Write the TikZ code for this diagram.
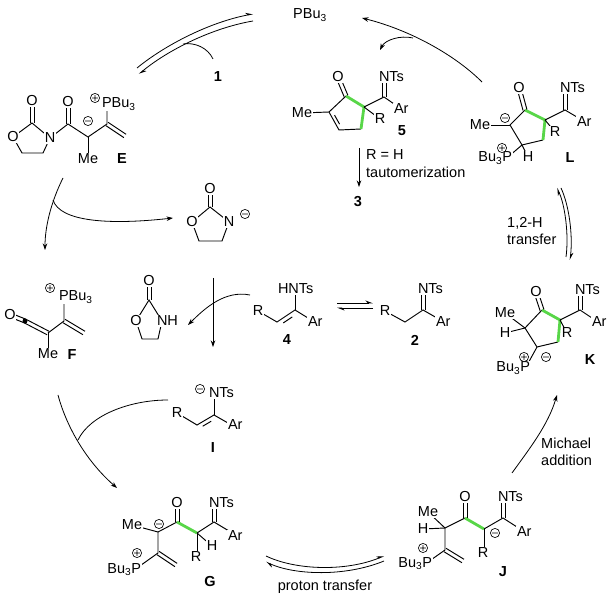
\documentclass[tikz,border=0pt]{standalone}
\usepackage{fontspec}
\setmainfont{Liberation Sans}
\usetikzlibrary{arrows.meta,calc}
\definecolor{hlgreen}{RGB}{88,214,72}
\tikzset{
  bond/.style={line width=0.95pt},
  gbond/.style={line width=2.8pt,draw=hlgreen},
  atom/.style={fill=white,inner sep=0.8pt},
  cpd/.style={font=\bfseries},
  chg/.style={line width=0.65pt,fill=white},
  arr/.style={line width=0.8pt,-{Stealth[length=6.5pt,width=4.5pt]}},
  eq/.style={line width=0.8pt,-{Stealth[length=6.5pt,width=5pt,harpoon]}},
  note/.style={align=left,inner sep=0pt}
}
\newcommand{\dbl}[2]{\draw[bond] ($#1!2pt!90:#2$) -- ($#2!2pt!-90:#1$) ($#1!2pt!-90:#2$) -- ($#2!2pt!90:#1$);}
\begin{document}
\fontsize{14.5}{17.5}\selectfont
\begin{tikzpicture}[x=1pt,y=-1pt]
\useasboundingbox (0,0) rectangle (616,601);

\draw[bond] (32,123) -- (13,137) -- (22,153) -- (43,153) -- (50,138) -- cycle;
\draw[bond] (50,138) -- (68,124) -- (88,137) -- (107,124) -- (107,103);
\draw[bond] (88,137) -- (88,159);
\dbl{(32,123)}{(32,101)}
\dbl{(68,124)}{(68,102)}
\dbl{(107,124)}{(125,136)}

\dbl{(10,315)}{(25,321)}
\dbl{(25,321)}{(48,333)}
\draw[bond] (48,333) -- (48,354);
\draw[bond] (48,333) -- (64,321) -- (64,296);
\dbl{(64,321)}{(84,333)}

\draw[bond] (210,207) -- (192,222) -- (199,241) -- (222,241) -- (229,222) -- cycle;
\dbl{(210,207)}{(210,189)}

\draw[bond] (149,300) -- (136,321) -- (142,339) -- (158,339) -- (162,321) -- cycle;
\dbl{(149,300)}{(149,281)}

\draw[bond] (258,311) -- (277,322) -- (295,310) -- (308,318);
\draw[bond] (295,310) -- (295,289);
\draw[bond] ($(277,322)!0.18!(295,310)!0.22!(294,334)$) -- ($(295,310)!0.18!(277,322)!0.22!(294,334)$);

\draw[bond] (385,311) -- (405,322) -- (423,310) -- (437,318);
\dbl{(423,310)}{(423,289)}

\draw[bond] (177,413) -- (197,425) -- (214,415) -- (228,423);
\draw[bond] (214,415) -- (214,393);
\draw[bond] ($(197,425)!0.18!(214,415)!0.22!(212,437)$) -- ($(214,415)!0.18!(197,425)!0.22!(212,437)$);

\draw[bond] (346,96) -- (329,112) -- (339,130) -- (361,129);
\draw[gbond] (346,96) -- (364,107) -- (361,129);
\draw[bond] ($(329,112)!0.18!(339,130)!0.22!(348,115)$) -- ($(339,130)!0.18!(329,112)!0.22!(348,115)$);
\dbl{(346,96)}{(338,77)}
\draw[bond] (329,112) -- (302,113);
\draw[bond] (364,107) -- (384,97) -- (397,106);
\draw[bond] (364,107) -- (380,119);
\dbl{(384,97)}{(384,77)}

\draw[bond] (525,110) -- (510,125) -- (522,145) -- (543,140);
\draw[gbond] (525,110) -- (545,120) -- (543,140);
\dbl{(525,110)}{(519,88)}
\draw[bond] (510,125) -- (480,125);
\draw[bond] (522,145) -- (508,157);
\draw[bond] (522,145) -- (528,157);
\draw[bond] (545,120) -- (555,132);
\draw[bond] (545,120) -- (565,110) -- (582,120);
\dbl{(565,110)}{(565,88)}

\draw[bond] (542,310) -- (525,328) -- (537,347) -- (558,342);
\draw[gbond] (542,310) -- (560,320) -- (558,342);
\dbl{(542,310)}{(536,292)}
\draw[bond] (525,328) -- (505,313);
\draw[bond] (525,328) -- (505,333);
\draw[bond] (537,347) -- (526,367);
\draw[bond] (560,320) -- (567,333);
\draw[bond] (560,320) -- (580,310) -- (595,320);
\dbl{(580,310)}{(580,290)}

\draw[bond] (132,525) -- (158,532) -- (177,522);
\draw[gbond] (177,522) -- (197,533);
\draw[bond] (197,533) -- (214,522) -- (229,531);
\draw[bond] (197,533) -- (212,546);
\draw[bond] (197,533) -- (197,557);
\draw[bond] (158,532) -- (158,553) -- (137,568);
\dbl{(177,522)}{(177,503)}
\dbl{(214,522)}{(214,503)}
\dbl{(158,553)}{(176,565)}

\draw[bond] (428,512) -- (445,528) -- (465,518);
\draw[bond] (423,529) -- (445,528);
\draw[gbond] (465,518) -- (484,529);
\draw[bond] (484,529) -- (503,518) -- (517,527);
\draw[bond] (484,529) -- (484,553);
\draw[bond] (445,528) -- (445,550) -- (428,562);
\dbl{(465,518)}{(465,497)}
\dbl{(503,518)}{(503,497)}
\dbl{(445,550)}{(463,561)}

\node (pbu) at (310,15) {PBu\textsubscript{3}};
\node[cpd] (l1) at (218,77) {1};

\node[atom] (eO1) at (13,137) {O};
\node[atom] (eN) at (50,138) {N};
\node[atom] (eO2) at (32,101) {O};
\node[atom] (eO3) at (68,102) {O};
\node[atom] (eMe) at (88,159) {Me};
\node[atom,anchor=base west] (eP) at (101,108) {PBu\textsubscript{3}};
\node[cpd] (lE) at (122,159) {E};

\node[atom] (fO) at (10,315) {O};
\node[atom] (fMe) at (48,354) {Me};
\node[atom,anchor=base west] (fP) at (58,301) {PBu\textsubscript{3}};
\node[cpd] (lF) at (72,355) {F};
\fill (25,321) circle (2.5);

\node[atom] (aO1) at (192,222) {O};
\node[atom] (aN) at (229,222) {N};
\node[atom] (aO2) at (210,189) {O};

\node[atom] (nO1) at (136,321) {O};
\node[atom,anchor=west] (nN) at (156,321) {NH};
\node[atom] (nO2) at (149,281) {O};

\node[atom] (r4) at (258,311) {R};
\node[atom,anchor=west] (n4) at (277,289) {HNTs};
\node[atom,anchor=west] (ar4) at (307,322) {Ar};
\node[cpd] (l4) at (287,340) {4};

\node[atom] (r2) at (385,311) {R};
\node[atom,anchor=west] (n2) at (417,289) {NTs};
\node[atom,anchor=west] (ar2) at (435,322) {Ar};
\node[cpd] (l2) at (415,340) {2};

\node[atom] (rI) at (177,413) {R};
\node[atom,anchor=west] (nI) at (208,393) {NTs};
\node[atom,anchor=west] (arI) at (227,425) {Ar};
\node[cpd] (lI) at (213,448) {I};

\node[atom] (o5) at (338,77) {O};
\node[atom] (me5) at (302,113) {Me};
\node[atom,anchor=west] (n5) at (378,77) {NTs};
\node[atom,anchor=west] (ar5) at (393,109) {Ar};
\node[atom] (r5) at (380,119) {R};
\node[cpd] (l5) at (402,131) {5};
\node[anchor=west,inner sep=0pt] (rh) at (366,155) {R = H};
\node[anchor=west,inner sep=0pt] (taut) at (366,172) {tautomerization};
\node[cpd] (l3) at (358,202) {3};

\node[atom] (oL) at (519,88) {O};
\node[atom] (meL) at (480,125) {Me};
\node[atom,anchor=base east] (pL) at (513,162) {Bu\textsubscript{3}P};
\node[atom] (hL) at (528,157) {H};
\node[atom] (rL) at (555,132) {R};
\node[atom,anchor=west] (nL) at (559,88) {NTs};
\node[atom,anchor=west] (arL) at (576,122) {Ar};
\node[cpd] (lL) at (570,158) {L};

\node[atom] (oK) at (536,292) {O};
\node[atom] (meK) at (505,313) {Me};
\node[atom] (hK) at (505,333) {H};
\node[atom,anchor=base east] (pK) at (531,372) {Bu\textsubscript{3}P};
\node[atom] (rK) at (567,333) {R};
\node[atom,anchor=west] (nK) at (574,290) {NTs};
\node[atom,anchor=west] (arK) at (591,322) {Ar};
\node[cpd] (lK) at (590,360) {K};

\node[atom] (oG) at (177,503) {O};
\node[atom] (meG) at (132,525) {Me};
\node[atom,anchor=west] (nG) at (208,503) {NTs};
\node[atom,anchor=west] (arG) at (227,536) {Ar};
\node[atom] (hG) at (212,546) {H};
\node[atom] (rG) at (196,557) {R};
\node[atom,anchor=base east] (pG) at (142,573) {Bu\textsubscript{3}P};
\node[cpd] (lG) at (210,582) {G};

\node[atom] (oJ) at (465,497) {O};
\node[atom] (meJ) at (428,512) {Me};
\node[atom] (hJ) at (423,529) {H};
\node[atom,anchor=west] (nJ) at (497,497) {NTs};
\node[atom,anchor=west] (arJ) at (516,532) {Ar};
\node[atom] (rJ) at (483,553) {R};
\node[atom,anchor=base east] (pJ) at (433,567) {Bu\textsubscript{3}P};
\node[cpd] (lJ) at (503,572) {J};

\node[note,anchor=west] (hshift) at (507,231) {1,2-H\\transfer};
\node[note,anchor=west] (mich) at (541,452) {Michael\\addition};
\node (prot) at (325,587) {proton transfer};

\foreach \c in {(95,98),(50,288),(502,148),(524,357),(137,553),(423,548)}
  \draw[chg] \c circle (4.6) +(-2.9,0) -- +(2.9,0) +(0,-2.9) -- +(0,2.9);
\foreach \c in {(88,121),(245,214),(200,389),(505,118),(546,357),(159,524),(495,533)}
  \draw[chg] \c circle (4.6) +(-2.9,0) -- +(2.9,0);

\coordinate (eIn) at (137,68);
\coordinate (pIn) at (253,14);
\coordinate (pOut) at (253,21);
\coordinate (eOut) at (139,74);
\coordinate (oneS) at (213,59);
\coordinate (oneE) at (183,44);
\draw[eq] (eIn) .. controls (165,45) and (210,22) .. (pIn);
\draw[eq] (pOut) .. controls (212,28) and (168,50) .. (eOut);
\draw[line width=0.8pt] (oneS) .. controls (208,48) and (195,42) .. (oneE);

\coordinate (efS) at (63,178);
\coordinate (efE) at (45,250);
\coordinate (efB) at (53,200);
\coordinate (anE) at (173,218);
\draw[arr] (efS) .. controls (52,200) and (45,225) .. (efE);
\draw[arr] (efB) .. controls (60,222) and (110,225) .. (anE);

\coordinate (vS) at (213,278);
\coordinate (vE) at (213,347);
\coordinate (hS) at (250,295);
\coordinate (hE) at (188,325);
\draw[arr] (vS) -- (vE);
\draw[arr] (hS) .. controls (225,290) and (205,308) .. (hE);

\coordinate (t4a) at (337,303);
\coordinate (t2a) at (373,303);
\coordinate (t2b) at (373,308);
\coordinate (t4b) at (337,308);
\draw[eq] (t4a) -- (t2a);
\draw[eq] (t2b) -- (t4b);

\coordinate (fgS) at (58,395);
\coordinate (fgE) at (117,488);
\coordinate (iS) at (168,400);
\coordinate (iE) at (78,440);
\draw[arr] (fgS) .. controls (66,425) and (85,460) .. (fgE);
\draw[line width=0.8pt] (iS) .. controls (130,400) and (90,415) .. (iE);

\coordinate (gOut) at (266,556);
\coordinate (jIn) at (384,556);
\coordinate (jOut) at (384,561);
\coordinate (gIn) at (266,562);
\draw[eq] (gOut) .. controls (295,570) and (345,572) .. (jIn);
\draw[eq] (jOut) .. controls (345,577) and (295,575) .. (gIn);

\coordinate (mS) at (512,473);
\coordinate (mE) at (557,395);
\draw[arr] (mS) .. controls (530,448) and (548,425) .. (mE);

\coordinate (kOut) at (566,257);
\coordinate (lIn) at (557,188);
\coordinate (lOut) at (561,188);
\coordinate (kIn) at (570,260);
\draw[eq] (kOut) .. controls (569,235) and (565,205) .. (lIn);
\draw[eq] (lOut) .. controls (569,205) and (573,235) .. (kIn);

\coordinate (lpS) at (482,82);
\coordinate (lpE) at (362,18);
\coordinate (brS) at (413,38);
\coordinate (brE) at (380,50);
\draw[arr] (lpS) .. controls (455,55) and (410,30) .. (lpE);
\draw[arr] (brS) .. controls (400,35) and (385,40) .. (brE);

\coordinate (s5) at (359,148);
\coordinate (s3) at (359,187);
\draw[arr] (s5) -- (s3);
\end{tikzpicture}
\end{document}
